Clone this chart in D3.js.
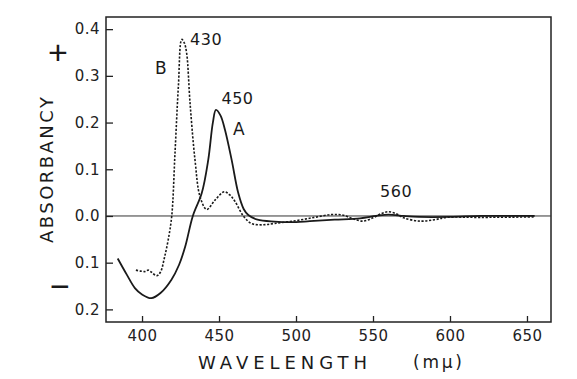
<!DOCTYPE html>
<html><head><meta charset="utf-8">
<script src="https://cdn.jsdelivr.net/npm/d3@7"></script>
<style>
body{margin:0;background:#fff;}
svg{display:block;font-family:"DejaVu Sans",Arial,sans-serif;}
</style></head>
<body><svg id="c" width="577" height="379"></svg>
<script>
// Curve A (solid)
const wavelengthA = [384.2,390,395.5,400,406,412,419,424,428,433,438.8,443,446,448,451,453.9,458.2,462.5,466,469,475,486,500,509,525,541.6,552,560,570,580,600,620,655];
const absorbA     = [-0.091,-0.125,-0.155,-0.168,-0.176,-0.165,-0.137,-0.105,-0.066,0.000,0.049,0.12,0.2,0.227,0.215,0.184,0.12,0.049,0.015,0.002,-0.008,-0.012,-0.013,-0.011,-0.008,-0.005,0.0,0.003,0.0,-0.002,-0.002,0.0,0.0];
// Curve B (dashed)
const wavelengthB = [396,399,402,404,406,409.5,412,414.5,417,419.3,421.4,423.6,425.8,427.5,429,431.2,434.4,437.7,442,447.4,453.4,457,460.4,465.8,471,477.7,486,500,512,523,530,537,543.5,550,556,560,565,570,580.5,590,598,620,655];
const absorbB     = [-0.116,-0.118,-0.119,-0.116,-0.12,-0.128,-0.12,-0.09,-0.051,0.0,0.134,0.277,0.378,0.37,0.348,0.241,0.12,0.041,0.014,0.034,0.052,0.045,0.031,0.0,-0.016,-0.019,-0.016,-0.01,-0.003,0.003,0.002,-0.006,-0.011,-0.004,0.006,0.009,0.005,-0.004,-0.011,-0.008,-0.003,-0.003,-0.002];
const xTicks = [400,450,500,550,600,650];
const yTicks = [0.4,0.3,0.2,0.1,0.0,-0.1,-0.2];
const annotations = [
  {text:"430", w:431.2, v:0.365, size:16, anchor:"start"},
  {text:"B",   w:412.3, v:0.304, size:17, anchor:"middle"},
  {text:"450", w:451.6, v:0.239, size:16, anchor:"start"},
  {text:"A",   w:463,   v:0.173, size:17, anchor:"middle"},
  {text:"560", w:565,   v:0.040, size:16, anchor:"middle"}
];

const svg = d3.select("#c");
const x = d3.scaleLinear().domain([376.6,665.6]).range([106,551]);
const y = d3.scaleLinear().domain([-0.227,0.426]).range([322,17]);

// frame
svg.append("rect").attr("x",106).attr("y",17).attr("width",445).attr("height",305)
  .attr("fill","none").attr("stroke","#222").attr("stroke-width",1.5);

// zero line
svg.append("line").attr("x1",x.range()[0]).attr("x2",x.range()[1])
  .attr("y1",y(0)).attr("y2",y(0)).attr("stroke","#333").attr("stroke-width",1);

// axes
const yAxis = d3.axisLeft(y).tickValues(yTicks).tickSize(-7).tickPadding(6)
  .tickFormat(d=>Math.abs(d).toFixed(1));
const gy = svg.append("g").attr("transform","translate(106,0)").call(yAxis);
const xAxis = d3.axisBottom(x).tickValues(xTicks).tickSize(-6).tickPadding(8)
  .tickFormat(d3.format("d"));
const gx = svg.append("g").attr("transform","translate(0,322)").call(xAxis);
[gy,gx].forEach(g=>{
  g.select(".domain").remove();
  g.selectAll(".tick line").attr("stroke","#222").attr("stroke-width",1.3);
  g.selectAll(".tick text").attr("fill","#222").attr("font-size",15)
   .attr("letter-spacing",0.5)
   .attr("font-family","'DejaVu Sans',Arial,sans-serif");
});

// curves
const lineGen = d3.line().x(d=>x(d[0])).y(d=>y(d[1])).curve(d3.curveCatmullRom.alpha(0.5));
svg.append("path").datum(d3.zip(wavelengthA,absorbA)).attr("d",lineGen)
  .attr("fill","none").attr("stroke","#1a1a1a").attr("stroke-width",1.8);
svg.append("path").datum(d3.zip(wavelengthB,absorbB)).attr("d",lineGen)
  .attr("fill","none").attr("stroke","#1a1a1a").attr("stroke-width",1.6)
  .attr("stroke-dasharray","2.2,1.6");

// annotations
svg.selectAll("text.ann").data(annotations).enter().append("text").attr("class","ann")
  .attr("x",d=>x(d.w)).attr("y",d=>y(d.v)).attr("text-anchor",d=>d.anchor)
  .attr("font-size",d=>d.size).attr("letter-spacing",0.5).attr("fill","#1a1a1a").text(d=>d.text);

// axis titles
svg.append("text").attr("transform","translate(53,170) rotate(-90)")
  .attr("text-anchor","middle").attr("font-size",18).attr("fill","#1a1a1a")
  .attr("textLength",146).attr("lengthAdjust","spacing").text("ABSORBANCY");
svg.append("text").attr("x",198).attr("y",369).attr("font-size",18).attr("fill","#1a1a1a")
  .attr("textLength",169).attr("lengthAdjust","spacing").text("WAVELENGTH");
svg.append("text").attr("x",413).attr("y",368).attr("font-size",17).attr("fill","#1a1a1a")
  .attr("textLength",49).attr("lengthAdjust","spacing").text("(mμ)");
svg.append("text").attr("x",58).attr("y",64).attr("text-anchor","middle")
  .attr("font-family","'Liberation Sans',Arial,sans-serif")
  .attr("font-size",34).attr("fill","#1a1a1a").text("+");
svg.append("text").attr("x",60).attr("y",298).attr("text-anchor","middle")
  .attr("font-family","'Liberation Sans',Arial,sans-serif")
  .attr("font-size",34).attr("fill","#1a1a1a").text("−");
</script></body></html>
